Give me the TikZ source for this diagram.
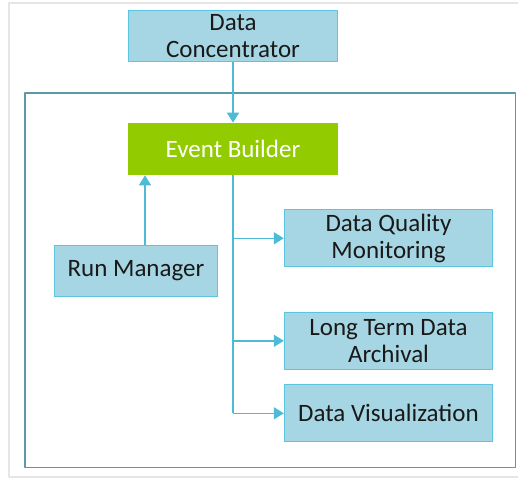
\documentclass[tikz,border=0pt]{standalone}
\usepackage{fontspec}
\setmainfont{Carlito}
\usepackage{xcolor}
\usetikzlibrary{arrows.meta}
\definecolor{boxblue}{HTML}{A6D6E3}
\definecolor{boxedge}{HTML}{5BC4DE}
\definecolor{ebgreen}{HTML}{92CC00}
\definecolor{linkblue}{HTML}{4DBAD6}
\definecolor{frameteal}{HTML}{5A9AA6}
\definecolor{pagegray}{HTML}{E6E6E6}

\begin{document}
\begin{tikzpicture}[x=1pt, y=-1pt, line join = round,
    box/.style={draw=boxedge, fill=boxblue, line width=1pt, text=black!90,
        align=center, inner sep=0pt, font=\fontsize{25}{27}\selectfont},
    linkline/.style={draw=linkblue, line width=1.5pt},
    link/.style={linkline, -{Triangle[length=10pt,width=12pt]}}]

                        \useasboundingbox (0,0) rectangle (518,479);
                        % page edge
                        \draw[pagegray, line width=2pt] (530,3) -- (9,3) -- (9,477) -- (530,477);
                        % outer frame
                        \draw[frameteal, line width=1.2pt] (25,93) rectangle (515.5,467.5);

                        % boxes
                        \node[box, minimum width=208.6pt, minimum height=51.7pt] (dc) at (233,36) {Data\\Concentrator};
                        \node[box, fill=ebgreen, draw=ebgreen, text=white, minimum width=208.6pt, minimum height=51.7pt] (eb) at (233,149) {Event Builder};
                        \node[box, minimum width=163.7pt, minimum height=51.7pt] (rm) at (136,271) {Run Manager};
                        \node[box, minimum width=208.4pt, minimum height=56.7pt] (dqm) at (388.5,238.3) {Data Quality\\Monitoring};
                        \node[box, minimum width=208.4pt, minimum height=57pt] (ltda) at (388.5,340.8) {Long Term Data\\Archival};
                        \node[box, minimum width=208.4pt, minimum height=56.7pt] (dv) at (388.5,413.3) {Data Visualization};

                        % connectors
                        \draw[link] (dc) -- (eb);
                        \draw[link] ([xshift=9]rm.north) -- ([xshift=9]rm.north |- eb.south);
                        \draw[linkline] (eb.south) -- (eb.south |- dv.west);
                        \foreach \t in {dqm,ltda,dv}
                            \draw[link] (eb.south |- \t.west) -- (\t.west);

                    \end{tikzpicture}
\end{document}
